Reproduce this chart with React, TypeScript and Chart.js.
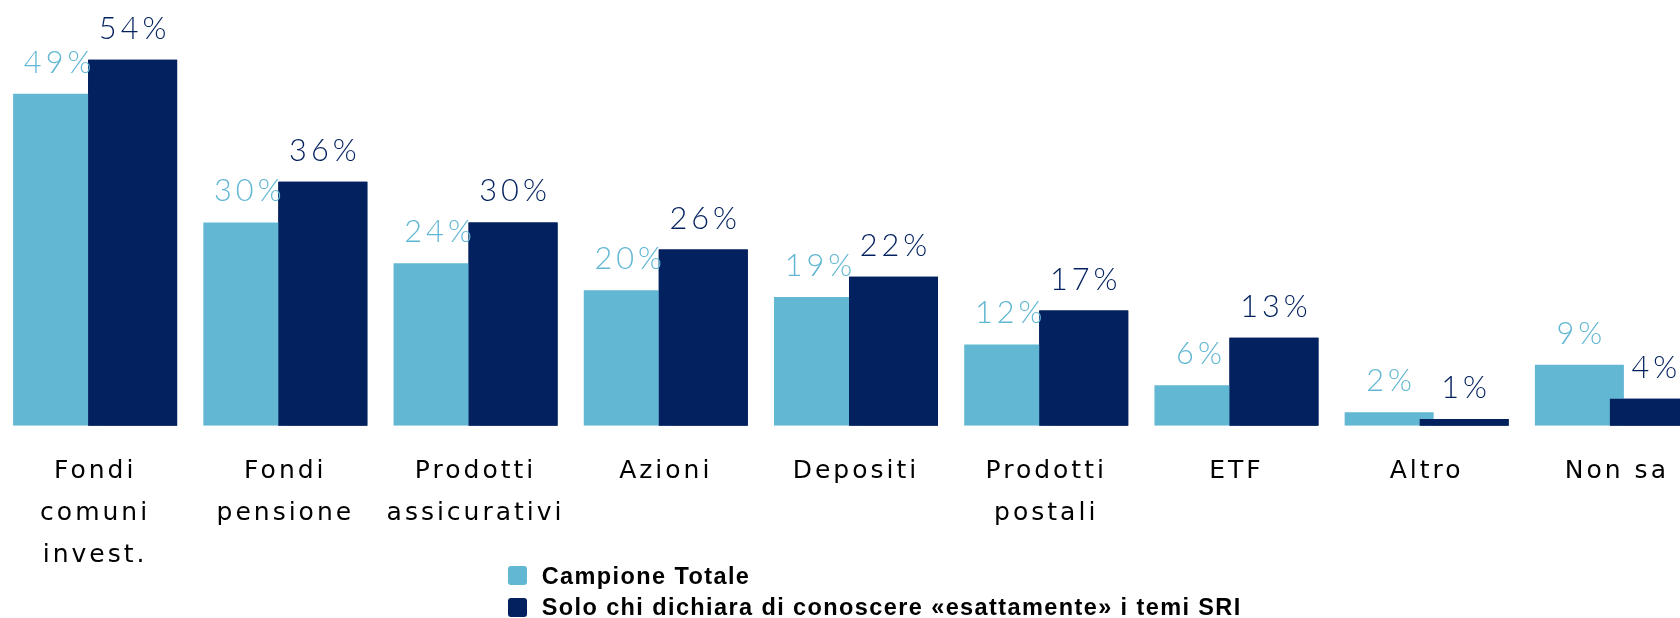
import React, { useEffect, useRef } from "react";
import { Chart, registerables } from "chart.js";

Chart.register(...registerables);

const categories: (string | string[])[] = [
  ["Fondi", "comuni", "invest."],
  ["Fondi", "pensione"],
  ["Prodotti", "assicurativi"],
  "Azioni",
  "Depositi",
  ["Prodotti", "postali"],
  "ETF",
  "Altro",
  "Non sa",
];
const seriesNames = [
  "Campione Totale",
  "Solo chi dichiara di conoscere «esattamente» i temi SRI",
];
const campioneTotale = [49, 30, 24, 20, 19, 12, 6, 2, 9];
const soloConoscere = [54, 36, 30, 26, 22, 17, 13, 1, 4];
const seriesColors = ["#62b7d3", "#03215f"];

const CANVAS_W = 1712;
const CANVAS_H = 618;

const spacingPlugin = {
  id: "tickSpacing",
  beforeDraw(chart: any) {
    (chart.ctx as any).letterSpacing = "3px";
  },
  afterDraw(chart: any) {
    (chart.ctx as any).letterSpacing = "0px";
  },
};

// draw the second series on top of the first one (bars overlap slightly)
const overlayPlugin = {
  id: "overlay",
  afterDatasetsDraw(chart: any) {
    const ctx = chart.ctx as any;
    ctx.save();
    chart.getDatasetMeta(1).data.forEach((el: any) => el.draw(ctx));
    ctx.restore();
  },
};

const dataLabelPlugin = {
  id: "dataLabels",
  afterDatasetsDraw(chart: any) {
    const ctx = chart.ctx as any;
    ctx.save();
    ctx.font = "300 30.7px Lato, 'Liberation Sans', sans-serif";
    ctx.letterSpacing = "4px";
    ctx.textAlign = "center";
    ctx.textBaseline = "alphabetic";
    chart.data.datasets.forEach((ds: any, di: number) => {
      const meta = chart.getDatasetMeta(di);
      ctx.fillStyle = seriesColors[di];
      meta.data.forEach((bar: any, i: number) => {
        ctx.fillText(ds.data[i] + "%", bar.x + 2, bar.y - 21);
      });
    });
    ctx.restore();
  },
};

export default function App() {
  const ref = useRef<HTMLCanvasElement | null>(null);

  useEffect(() => {
    if (!ref.current) return;
    const chart = new Chart(ref.current, {
      type: "bar",
      data: {
        labels: categories,
        datasets: [
          {
            label: seriesNames[0],
            data: campioneTotale,
            backgroundColor: seriesColors[0],
            borderWidth: 0,
            categoryPercentage: 0.7886,
            barPercentage: 1.1867,
          },
          {
            label: seriesNames[1],
            data: soloConoscere,
            backgroundColor: seriesColors[1],
            borderWidth: 0,
            categoryPercentage: 0.7886,
            barPercentage: 1.1867,
          },
        ],
      },
      options: {
        responsive: false,
        animation: false,
        devicePixelRatio: 1,
        layout: { padding: { left: 0, right: 0, top: 0, bottom: 17.1 } },
        plugins: {
          legend: { display: false },
          tooltip: { enabled: false },
        },
        scales: {
          x: {
            grid: { display: false, drawTicks: false },
            border: { display: false },
            ticks: {
              autoSkip: false,
              maxRotation: 0,
              minRotation: 0,
              padding: 25,
              color: "#000000",
              font: {
                family: "'DejaVu Sans', 'Liberation Sans', sans-serif",
                size: 25,
                lineHeight: 1.668,
              },
            },
          },
          y: { display: false, min: 0, max: 62.83 },
        },
      },
      plugins: [spacingPlugin, overlayPlugin, dataLabelPlugin],
    });
    return () => chart.destroy();
  }, []);

  const legendFont: React.CSSProperties = {
    position: "absolute",
    left: 541.7,
    fontFamily: "'Liberation Sans', Arial, sans-serif",
    fontWeight: 700,
    fontSize: "23.5px",
    lineHeight: "23.5px",
    letterSpacing: "1.4px",
    color: "#000",
    whiteSpace: "nowrap",
  };
  const swatch = (top: number, color: string): React.CSSProperties => ({
    position: "absolute",
    left: 508.3,
    top,
    width: 18.5,
    height: 19,
    borderRadius: 3,
    background: color,
  });

  return (
    <div
      style={{
        position: "fixed",
        left: 0,
        top: 0,
        width: 1680,
        height: 618,
        overflow: "hidden",
        background: "#fff",
      }}
    >
      <canvas
        ref={ref}
        width={CANVAS_W}
        height={CANVAS_H}
        style={{ position: "absolute", left: 0, top: 0, width: CANVAS_W, height: CANVAS_H }}
      />
      <div style={swatch(566, seriesColors[0])} />
      <div style={{ ...legendFont, top: 564.6 }}>{seriesNames[0]}</div>
      <div style={swatch(597.5, seriesColors[1])} />
      <div style={{ ...legendFont, top: 596.1 }}>{seriesNames[1]}</div>
    </div>
  );
}
